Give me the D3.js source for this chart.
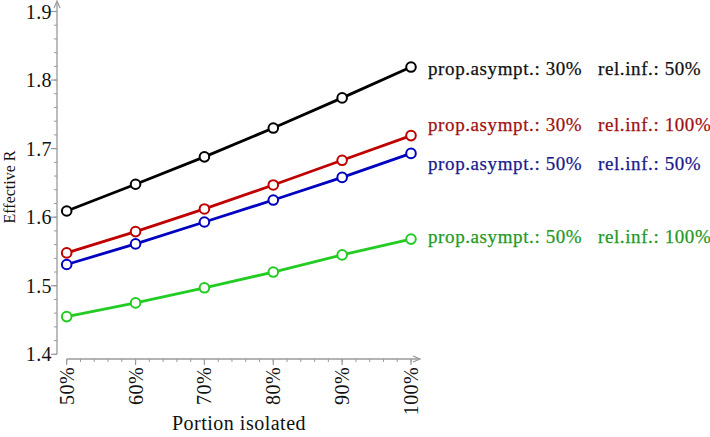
<!DOCTYPE html>
<html>
<head>
<meta charset="utf-8">
<script src="https://cdn.jsdelivr.net/npm/d3@7"></script>
<style>
  html, body { margin: 0; padding: 0; background: #fff; }
  svg { display: block; }
  text { font-family: "Liberation Serif", "DejaVu Serif", serif; }
</style>
</head>
<body>
<svg id="chart" width="710" height="437"></svg>
<script>
// ---- data ----
const portions = [50, 60, 70, 80, 90, 100];
const xTickLabels = ["50%", "60%", "70%", "80%", "90%", "100%"];
const yTicks = [1.4, 1.5, 1.6, 1.7, 1.8, 1.9];
const seriesNames = [
  ["prop.asympt.: 30%", "rel.inf.: 50%"],
  ["prop.asympt.: 30%", "rel.inf.: 100%"],
  ["prop.asympt.: 50%", "rel.inf.: 50%"],
  ["prop.asympt.: 50%", "rel.inf.: 100%"]
];
const s1 = [1.609, 1.648, 1.688, 1.730, 1.774, 1.819];
const s2 = [1.548, 1.579, 1.612, 1.647, 1.683, 1.719];
const s3 = [1.531, 1.561, 1.593, 1.625, 1.658, 1.693];
const s4 = [1.455, 1.475, 1.497, 1.520, 1.545, 1.568];

// ---- styles ----
const lineColors = ["#000000", "#c00000", "#0000c0", "#22cc22"];
const textColors = ["#111111", "#a01010", "#1a1a8c", "#1f9a1f"];
const labelOffsets = [1, -11, 10, -2.5];

const svg = d3.select("#chart");
const x = d3.scaleLinear().domain([50, 100]).range([66.7, 411]);
const y = d3.scaleLinear().domain([1.4, 1.9]).range([354.3, 11.5]);
const axisColor = "#9a9a9a";

// y axis
const yAxisX = 57;
const gy = svg.append("g");
gy.append("line").attr("x1", yAxisX).attr("x2", yAxisX)
  .attr("y1", y(1.4)).attr("y2", 2).attr("stroke", axisColor).attr("stroke-width", 1.3);
gy.append("path").attr("d", `M${yAxisX-3},8 L${yAxisX},1 L${yAxisX+3},8`)
  .attr("fill", "none").attr("stroke", axisColor).attr("stroke-width", 1.2);
const yMinor = d3.range(1.4, 1.9001, 0.02);
gy.selectAll("line.minor").data(yMinor).join("line")
  .attr("x1", yAxisX - 3).attr("x2", yAxisX)
  .attr("y1", d => y(d)).attr("y2", d => y(d))
  .attr("stroke", axisColor).attr("stroke-width", 1);
gy.selectAll("line.major").data(yTicks).join("line")
  .attr("x1", yAxisX - 6).attr("x2", yAxisX)
  .attr("y1", d => y(d)).attr("y2", d => y(d))
  .attr("stroke", axisColor).attr("stroke-width", 1.2);
gy.selectAll("text").data(yTicks).join("text")
  .attr("x", yAxisX - 5).attr("y", d => y(d)).attr("dy", "0.35em")
  .attr("text-anchor", "end").attr("font-size", 20).attr("fill", "#111")
  .attr("letter-spacing", 0.4)
  .text(d => d.toFixed(1));

// x axis
const xAxisY = 359;
const gx = svg.append("g");
gx.append("line").attr("x1", x(50)).attr("x2", 420)
  .attr("y1", xAxisY).attr("y2", xAxisY).attr("stroke", axisColor).attr("stroke-width", 1.3);
gx.append("path").attr("d", `M413,${xAxisY-3} L420,${xAxisY} L413,${xAxisY+3}`)
  .attr("fill", "none").attr("stroke", axisColor).attr("stroke-width", 1.2);
const xMinor = d3.range(50, 100.001, 2);
gx.selectAll("line.minor").data(xMinor).join("line")
  .attr("x1", d => x(d)).attr("x2", d => x(d))
  .attr("y1", xAxisY).attr("y2", xAxisY + 3)
  .attr("stroke", axisColor).attr("stroke-width", 1);
gx.selectAll("line.major").data(portions).join("line")
  .attr("x1", d => x(d)).attr("x2", d => x(d))
  .attr("y1", xAxisY).attr("y2", xAxisY + 6)
  .attr("stroke", axisColor).attr("stroke-width", 1.2);
gx.selectAll("text").data(portions).join("text")
  .attr("transform", d => `translate(${x(d)},${xAxisY + 8}) rotate(-90)`)
  .attr("dy", "0.35em").attr("text-anchor", "end")
  .attr("font-size", 20).attr("fill", "#111").attr("letter-spacing", 0.4)
  .text((d, i) => xTickLabels[i]);

// titles
svg.append("text").attr("x", 239).attr("y", 430).attr("text-anchor", "middle")
  .attr("font-size", 20).attr("letter-spacing", 0.5).attr("fill", "#111").text("Portion isolated");
svg.append("text").attr("transform", "translate(15,187) rotate(-90)")
  .attr("text-anchor", "middle").attr("font-size", 16).attr("fill", "#111").text("Effective R");

// series
const allSeries = [s1, s2, s3, s4];
const line = d3.line().x((d, i) => x(portions[i])).y(d => y(d));
allSeries.forEach((s, k) => {
  const g = svg.append("g");
  g.append("path").attr("d", line(s)).attr("fill", "none")
    .attr("stroke", lineColors[k]).attr("stroke-width", 2.8);
  g.selectAll("circle").data(s).join("circle")
    .attr("cx", (d, i) => x(portions[i])).attr("cy", d => y(d)).attr("r", 4.8)
    .attr("fill", "#fff").attr("stroke", lineColors[k]).attr("stroke-width", 2);
  const ly = y(s[s.length - 1]) + labelOffsets[k];
  const t = g.append("text").attr("x", 428).attr("y", ly).attr("dy", "0.35em")
    .attr("font-size", 19).attr("letter-spacing", 0.6)
    .attr("fill", textColors[k]).attr("stroke", textColors[k]).attr("stroke-width", 0.25);
  t.append("tspan").text(seriesNames[k][0]);
  t.append("tspan").attr("x", 598).text(seriesNames[k][1]);
});
</script>
</body>
</html>
